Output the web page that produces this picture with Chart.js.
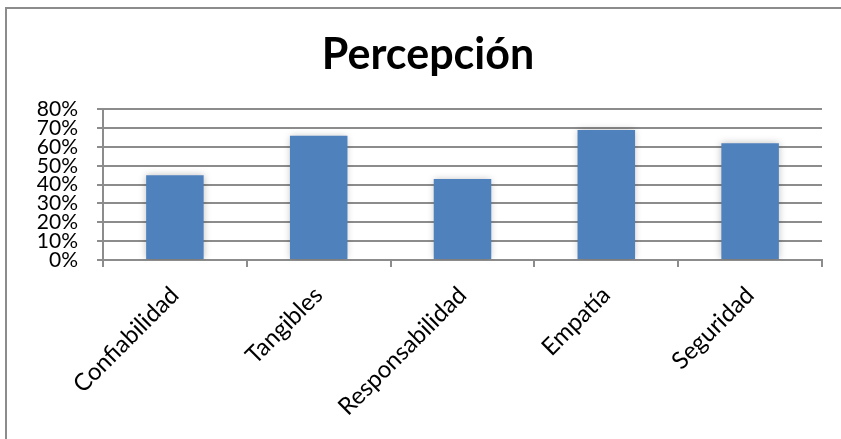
<!DOCTYPE html>
<html>
<head>
<meta charset="utf-8">
<script src="https://cdn.jsdelivr.net/npm/chart.js@4"></script>
<style>
  html, body { margin: 0; padding: 0; background: #fff; overflow: hidden; }
  body { width: 841px; height: 439px; position: relative; }
  #frame {
    position: absolute; left: 5px; top: 7px; width: 850px; height: 440px;
    border: 2px solid #8c8c8c; box-sizing: border-box;
  }
  #wrap { position: absolute; left: 0; top: 0; width: 856px; height: 439px; }
</style>
</head>
<body>
<div id="frame"></div>
<div id="wrap"><canvas id="percChart"></canvas></div>
<script>
const chartTitle = 'Percepción';
const categories = ['Confiabilidad', 'Tangibles', 'Responsabilidad', 'Empatía', 'Seguridad'];
const values = [45, 66, 43, 69, 62];
const yTicks = [0, 10, 20, 30, 40, 50, 60, 70, 80];

const FONT = 'Lato, "Open Sans", sans-serif';

// soft glow round the bars like the office chart
const barGlow = {
    id: 'barGlow',
    beforeDatasetsDraw(chart) {
        const ctx = chart.ctx;
        ctx.save();
        ctx.shadowColor = 'rgba(0,0,0,0.25)';
        ctx.shadowBlur = 7;
    },
    afterDatasetsDraw(chart) {
        chart.ctx.restore();
    }
};

const ctx = document.getElementById('percChart').getContext('2d');
new Chart(ctx, {
    type: 'bar',
    data: {
        labels: categories,
        datasets: [{
            label: chartTitle,
            data: values,
            backgroundColor: '#4f81bd',
            borderWidth: 0,
            categoryPercentage: 1,
            barPercentage: 0.4
        }]
    },
    options: {
        responsive: true,
        maintainAspectRatio: false,
        animation: false,
        devicePixelRatio: 1,
        layout: { padding: { left: 0, right: 0, top: 0, bottom: 0 } },
        plugins: {
            legend: { display: false },
            tooltip: { enabled: false },
            title: {
                display: true,
                text: chartTitle,
                color: '#000',
                font: { family: FONT, size: 43, weight: 'bold', lineHeight: 1.1 },
                padding: { top: 31, bottom: 31 }
            }
        },
        scales: {
            x: {
                grid: {
                    display: true,
                    drawOnChartArea: false,
                    offset: true,
                    tickLength: 7,
                    color: '#8c8c8c',
                    lineWidth: 2
                },
                border: { display: true, color: '#8c8c8c', width: 2 },
                ticks: {
                    color: '#000',
                    font: { family: FONT, size: 24 },
                    minRotation: 45,
                    maxRotation: 45,
                    padding: 14,
                    autoSkip: false
                },
                afterFit(s) { s.height = 179; }
            },
            y: {
                min: 0,
                max: 80,
                grid: {
                    color: '#8c8c8c',
                    lineWidth: 2,
                    tickLength: 6
                },
                border: { display: true, color: '#8c8c8c', width: 2 },
                afterBuildTicks(s) { s.ticks = yTicks.map(v => ({ value: v })); },
                ticks: {
                    color: '#000',
                    font: { family: FONT, size: 21, lineHeight: 1 },
                    padding: 19,
                    autoSkip: false,
                    callback: v => v + '%'
                },
                afterFit(s) { s.width = 103; }
            },
            spacer: {
                position: 'right',
                display: true,
                grid: { display: false },
                border: { display: false },
                ticks: { display: false },
                afterFit(s) { s.width = 34; }
            }
        }
    },
    plugins: [barGlow]
});
</script>
</body>
</html>
